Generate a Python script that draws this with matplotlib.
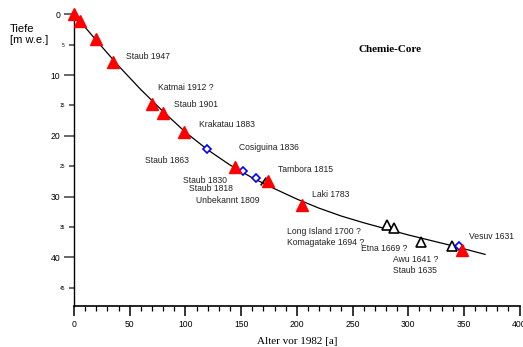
import matplotlib
matplotlib.use('Agg')
import matplotlib.pyplot as plt

plt.rcParams['font.family'] = ['Liberation Sans', 'DejaVu Sans']

# fitted age-depth curve (age in years before 1982, depth in m w.e.)
age_curve   = [0, 20, 40, 60, 80, 100, 120, 140, 160, 180, 200, 220, 240, 260, 280, 300, 320, 340, 369]
depth_curve = [0, 4.3, 8.5, 12.4, 16.0, 19.4, 22.3, 24.8, 26.9, 28.7, 30.4, 31.9, 33.2, 34.3, 35.3, 36.3, 37.2, 38.1, 39.5]

# dated horizons
age_red   = [0, 5.4, 19.5, 34.7, 70, 80, 99, 144.5, 174.4, 205, 348.5]
depth_red = [0, 1.05, 4.1, 7.9, 14.8, 16.2, 19.4, 25.2, 27.5, 31.3, 38.8]

age_blue   = [119.1, 152, 163.4, 345.6]
depth_blue = [22.2, 25.8, 26.9, 38.1]

age_black   = [280.6, 287.2, 311.5, 339]
depth_black = [34.7, 35.2, 37.4, 38.1]

age_tick   = [170]
depth_tick = [27.4]

# event labels: (text, age, depth)
labels = [
    ('Staub 1947', 46.7, 6.9),
    ('Katmai 1912 ?', 75.4, 12.0),
    ('Staub 1901', 89.8, 14.9),
    ('Krakatau 1883', 112.2, 18.2),
    ('Staub 1863', 63.7, 24.1),
    ('Cosiguina 1836', 148, 22.0),
    ('Staub 1830', 97.8, 27.3),
    ('Staub 1818', 103.2, 28.7),
    ('Unbekannt 1809', 109.5, 30.7),
    ('Tambora 1815', 183.1, 25.6),
    ('Laki 1783', 213.6, 29.7),
    ('Long Island 1700 ?', 191.2, 35.7),
    ('Komagatake 1694 ?', 191.2, 37.5),
    ('Etna 1669 ?', 257.3, 38.5),
    ('Awu 1641 ?', 286.3, 40.3),
    ('Staub 1635', 286.3, 42.1),
    ('Vesuv 1631', 354.5, 36.6),
]

fig = plt.figure(figsize=(5.23, 3.47), dpi=100)
ax = fig.add_axes([0.1415, 0.118, 0.852, 0.841])

ax.plot(age_curve, depth_curve, color='black', lw=0.9, zorder=2)
ax.plot(age_tick, depth_tick, ls='none', marker=(2, 0, -35), ms=7, mew=1.2, color='black', zorder=3)
ax.plot(age_black, depth_black, ls='none', marker='^', ms=6.5, mfc='white', mec='black', mew=1.2, zorder=3)
ax.plot(age_blue, depth_blue, ls='none', marker='D', ms=4.5, mfc='white', mec='blue', mew=1.2, zorder=4)
ax.plot(age_red, depth_red, ls='none', marker='^', ms=9, color='red', mec='red', clip_on=False, zorder=5)

for txt, x, y in labels:
    ax.text(x, y, txt, fontsize=6.2, ha='left', va='center', color='#222222')

ax.set_xlim(0, 400)
ax.set_ylim(48, 0)

ax.spines['top'].set_visible(False)
ax.spines['right'].set_visible(False)
ax.spines['left'].set_linewidth(1.0)
ax.spines['bottom'].set_linewidth(1.2)

ax.set_xticks(range(0, 401, 50))
ax.set_xticks(range(0, 401, 10), minor=True)
ax.set_yticks([0, 10, 20, 30, 40])
ax.set_yticks([5, 15, 25, 35, 45], minor=True, labels=['5', '15', '25', '35', '45'])

ax.tick_params(axis='x', which='major', length=7, width=1.1, labelsize=6.2, pad=3)
ax.tick_params(axis='x', which='minor', length=3.5, width=0.9)
ax.tick_params(axis='y', which='major', length=7, width=1.4, color='#666666', labelsize=6.2, pad=3)
ax.tick_params(axis='y', which='minor', length=3.5, width=1.4, color='#666666', labelsize=3.5, pad=3)

ax.set_xlabel('Alter vor 1982 [a]', family='Liberation Serif', fontsize=8, labelpad=6)
fig.text(0.019, 0.9, 'Tiefe\n[m w.e.]', fontsize=8, ha='left', va='center', linespacing=1.1)
fig.text(0.746, 0.856, 'Chemie-Core', family='Liberation Serif', fontweight='bold', fontsize=8,
         ha='center', va='center')

fig.savefig('out.png', dpi=100)
